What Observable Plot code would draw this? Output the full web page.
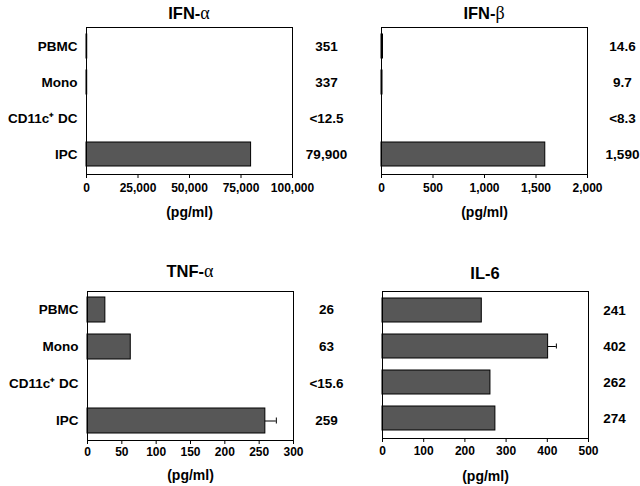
<!DOCTYPE html>
<html>
<head>
<meta charset="utf-8">
<script src="https://cdn.jsdelivr.net/npm/d3@7"></script>
<script src="https://cdn.jsdelivr.net/npm/@observablehq/plot@0.6"></script>
<style>
  html, body { margin: 0; padding: 0; background: #fff; }
  #root { position: relative; width: 640px; height: 486px; background: #fff; overflow: hidden; }
  .panel { position: absolute; }
  .title { position: absolute; font-family: "Liberation Sans", Arial, sans-serif; font-weight: bold; font-size: 16.5px; color: #000; transform: translate(-50%, -50%); white-space: nowrap; line-height: 1; }
  .title .gr { font-family: "Liberation Serif", "DejaVu Serif", serif; font-weight: normal; font-size: 18px; }
</style>
</head>
<body>
<div id="root"></div>
<script>
// ---- Data ----
const categories = ["PBMC", "Mono", "CD11c\u207A DC", "IPC"];

const ifnAlpha = [351, 337, null, 79900];
const ifnAlphaLabels = ["351", "337", "<12.5", "79,900"];
const ifnAlphaTicks = [0, 25000, 50000, 75000, 100000];

const ifnBeta = [14.6, 9.7, null, 1590];
const ifnBetaLabels = ["14.6", "9.7", "<8.3", "1,590"];
const ifnBetaTicks = [0, 500, 1000, 1500, 2000];

const tnfAlpha = [26, 63, null, 259];
const tnfAlphaErr = [null, null, null, 16];
const tnfAlphaLabels = ["26", "63", "<15.6", "259"];
const tnfAlphaTicks = [0, 50, 100, 150, 200, 250, 300];

const il6 = [241, 402, 262, 274];
const il6Err = [null, 20, null, null];
const il6Labels = ["241", "402", "262", "274"];
const il6Ticks = [0, 100, 200, 300, 400, 500];

const unitLabel = "(pg/ml)";

// ---- Drawing ----
const root = document.getElementById("root");
const fmt = d3.format(",");

function panel(o) {
  const rows = categories.map((c, i) => ({
    cat: c,
    value: o.values[i],
    err: o.errors ? o.errors[i] : null,
    label: o.labels[i]
  }));
  const bars = rows.filter(d => d.value != null);
  const errs = rows.filter(d => d.err != null).map(d => ({cat: d.cat, x1: d.value, x2: d.value + d.err}));
  const marks = [
    Plot.barX(bars, {x: "value", y: "cat", fill: "#575757", stroke: "#000", strokeWidth: 1}),
    Plot.ruleY(errs, {y: "cat", x1: "x1", x2: "x2", stroke: "#000", strokeWidth: 1}),
    Plot.tickX(errs, {x: "x2", y: "cat", stroke: "#000", strokeWidth: 1, insetTop: 9.5, insetBottom: 9.5}),
    Plot.frame({stroke: "#000", strokeWidth: 1}),
    Plot.text(rows, {y: "cat", text: "label", frameAnchor: "right", dx: o.labelDx, textAnchor: "middle", fontSize: 13.5, fontWeight: "bold", fill: "#000"}),
    Plot.text([unitLabel], {frameAnchor: "bottom", dy: o.unitDy, fontSize: 14, fontWeight: "bold", fill: "#000", lineAnchor: "middle"})
  ];
  if (o.showCats) {
    marks.push(Plot.text(rows, {y: "cat", text: "cat", frameAnchor: "left", dx: -9, textAnchor: "end", fontSize: 13.5, fontWeight: "bold", fill: "#000"}));
  }
  const svg = Plot.plot({
    width: o.width,
    height: 243,
    marginLeft: o.ml,
    marginRight: o.mr,
    marginTop: o.mt,
    marginBottom: o.mb,
    style: {fontFamily: "'Liberation Sans', Arial, sans-serif", fontSize: "12px", fontWeight: "bold", color: "#000", background: "transparent", overflow: "visible"},
    x: {domain: [o.ticks[0], o.ticks[o.ticks.length - 1]], ticks: o.ticks, tickFormat: fmt, tickSize: 4, tickPadding: o.tickPad, label: null},
    y: {domain: categories, axis: null, paddingInner: 0.32, paddingOuter: 0.16},
    marks
  });
  const div = document.createElement("div");
  div.className = "panel";
  div.style.left = o.left + "px";
  div.style.top = o.top + "px";
  div.appendChild(svg);
  root.appendChild(div);

  const t = document.createElement("div");
  t.className = "title";
  t.style.left = o.titleX + "px";
  t.style.top = o.titleY + "px";
  const a = document.createElement("span");
  a.textContent = o.title;
  t.appendChild(a);
  if (o.greek) {
    const g = document.createElement("span");
    g.className = "gr";
    g.textContent = o.greek;
    t.appendChild(g);
  }
  root.appendChild(t);
}

panel({left: 0, top: 0, width: 355, ml: 86, mr: 63, mt: 27, mb: 69, tickPad: 5, unitDy: 38, labelDx: 34,
  values: ifnAlpha, labels: ifnAlphaLabels, ticks: ifnAlphaTicks, showCats: true,
  title: "IFN-", greek: "\u03B1", titleX: 189, titleY: 13});
panel({left: 355, top: 0, width: 285, ml: 26, mr: 53, mt: 27, mb: 69, tickPad: 5, unitDy: 38, labelDx: 35,
  values: ifnBeta, labels: ifnBetaLabels, ticks: ifnBetaTicks, showCats: false,
  title: "IFN-", greek: "\u03B2", titleX: 484, titleY: 13});
panel({left: 0, top: 243, width: 355, ml: 87, mr: 62, mt: 48, mb: 46, tickPad: 3, unitDy: 35, labelDx: 33,
  values: tnfAlpha, errors: tnfAlphaErr, labels: tnfAlphaLabels, ticks: tnfAlphaTicks, showCats: true,
  title: "TNF-", greek: "\u03B1", titleX: 190, titleY: 271});
panel({left: 355, top: 243, width: 285, ml: 27, mr: 52, mt: 48, mb: 48, tickPad: 4, unitDy: 38, labelDx: 26,
  values: il6, errors: il6Err, labels: il6Labels, ticks: il6Ticks, showCats: false,
  title: "IL-6", greek: "", titleX: 485, titleY: 273});
</script>
</body>
</html>
